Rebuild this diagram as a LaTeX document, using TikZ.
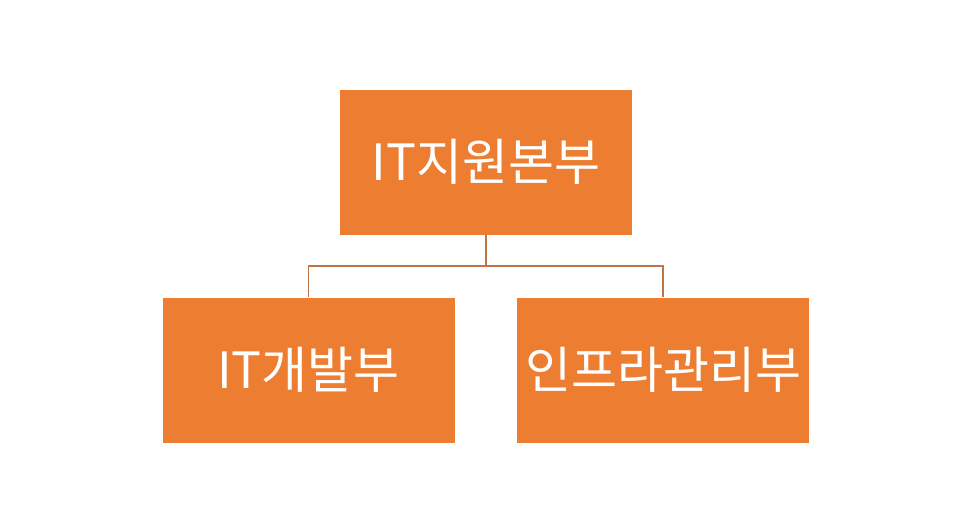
\documentclass[tikz,border=0pt]{standalone}
\usepackage{fontspec}
\setmainfont{Noto Sans CJK KR}
\definecolor{boxorange}{HTML}{ED7D31}
\definecolor{linkbrown}{HTML}{BE7445}

\begin{document}
\begin{tikzpicture}[x=1pt,y=-1pt]
      \tikzstyle{every node} = [inner sep = 0pt];
      \tikzstyle{unit} = [fill=boxorange, text=white, minimum width=292pt,
        minimum height=145pt, font=\fontsize{50}{56}\selectfont];
      \tikzstyle{link} = [draw=linkbrown, line width=1.3pt];
      \useasboundingbox (0,0) rectangle (971,520);
      \begin{scope}
        \node(top) [unit] at (486,162) {IT지원본부};
        \node(dev) [unit] at (308.5,370) {IT개발부};
        \node(infra) [unit] at (663,370) {인프라관리부};
        \coordinate (bus) at (486,266);
        \path[link] (top.south) -- (bus) -| (dev.north);
        \path[link] (bus) -| (infra.north);
      \end{scope}
    \end{tikzpicture}
\end{document}
